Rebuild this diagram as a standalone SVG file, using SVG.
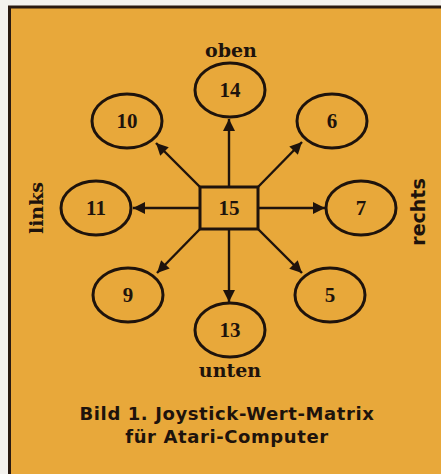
<svg xmlns="http://www.w3.org/2000/svg" width="441" height="474" viewBox="0 0 441 474">
<style>
.node ellipse, .node rect { fill: none; stroke: #1e130c; stroke-width: 3; }
.num { font-family: "Liberation Serif", "DejaVu Serif", serif; font-size: 21px; font-weight: bold; fill: #1e130c; text-anchor: middle; }
.lbl { font-family: "DejaVu Serif", "Liberation Serif", serif; font-size: 19px; font-weight: bold; fill: #1e130c; text-anchor: middle; }
.lbs { font-family: "DejaVu Sans", "Liberation Sans", sans-serif; font-size: 19px; font-weight: bold; fill: #1e130c; text-anchor: middle; }
.cap { font-family: "DejaVu Sans", "Liberation Sans", sans-serif; font-size: 18px; font-weight: bold; fill: #1e130c; text-anchor: middle; letter-spacing: 0.6px; }
.conn line { stroke: #1e130c; stroke-width: 2.4; marker-end: url(#ah); }
</style>
<defs>
<marker id="ah" viewBox="0 0 10 10" refX="10" refY="5" markerWidth="7" markerHeight="5" orient="auto" markerUnits="strokeWidth">
<path d="M0,0 L10,5 L0,10 z" fill="#1e130c"/>
</marker>
</defs>
<rect x="0" y="0" width="441" height="474" fill="#f4f2ee"/>
<rect x="9.5" y="7" width="440" height="475" fill="#e8a83a" stroke="#2a1a10" stroke-width="3"/>
<g class="conn">
<line x1="229" y1="187" x2="229" y2="119"/>
<line x1="200" y1="187" x2="156" y2="143"/>
<line x1="258" y1="187" x2="302" y2="142"/>
<line x1="200" y1="208" x2="133" y2="208"/>
<line x1="258" y1="208" x2="325" y2="208"/>
<line x1="200" y1="229" x2="157" y2="273"/>
<line x1="229" y1="229" x2="229" y2="302"/>
<line x1="258" y1="229" x2="302" y2="273"/>
</g>
<g id="n15" class="node"><rect x="200" y="187" width="58" height="42"/><text class="num" x="229" y="215">15</text></g>
<g id="n14" class="node"><ellipse cx="230" cy="90" rx="35" ry="27"/><text class="num" x="230" y="97">14</text></g>
<g id="n10" class="node"><ellipse cx="127" cy="121" rx="35" ry="27"/><text class="num" x="127" y="128">10</text></g>
<g id="n6" class="node"><ellipse cx="332" cy="121" rx="35" ry="27"/><text class="num" x="332" y="128">6</text></g>
<g id="n11" class="node"><ellipse cx="96" cy="208" rx="35" ry="27"/><text class="num" x="96" y="215">11</text></g>
<g id="n7" class="node"><ellipse cx="361" cy="208" rx="35" ry="27"/><text class="num" x="361" y="215">7</text></g>
<g id="n9" class="node"><ellipse cx="128" cy="295" rx="35" ry="27"/><text class="num" x="128" y="302">9</text></g>
<g id="n13" class="node"><ellipse cx="230" cy="330" rx="35" ry="27"/><text class="num" x="230" y="337">13</text></g>
<g id="n5" class="node"><ellipse cx="330" cy="295" rx="35" ry="27"/><text class="num" x="330" y="302">5</text></g>
<text class="lbl" x="231" y="57">oben</text>
<text class="lbl" x="230" y="377">unten</text>
<text class="lbl" transform="translate(43,208) rotate(-90)">links</text>
<text class="lbs" transform="translate(425,212) rotate(-90)">rechts</text>
<text class="cap" x="227" y="420">Bild 1. Joystick-Wert-Matrix</text>
<text class="cap" x="227" y="443">für Atari-Computer</text>
</svg>
